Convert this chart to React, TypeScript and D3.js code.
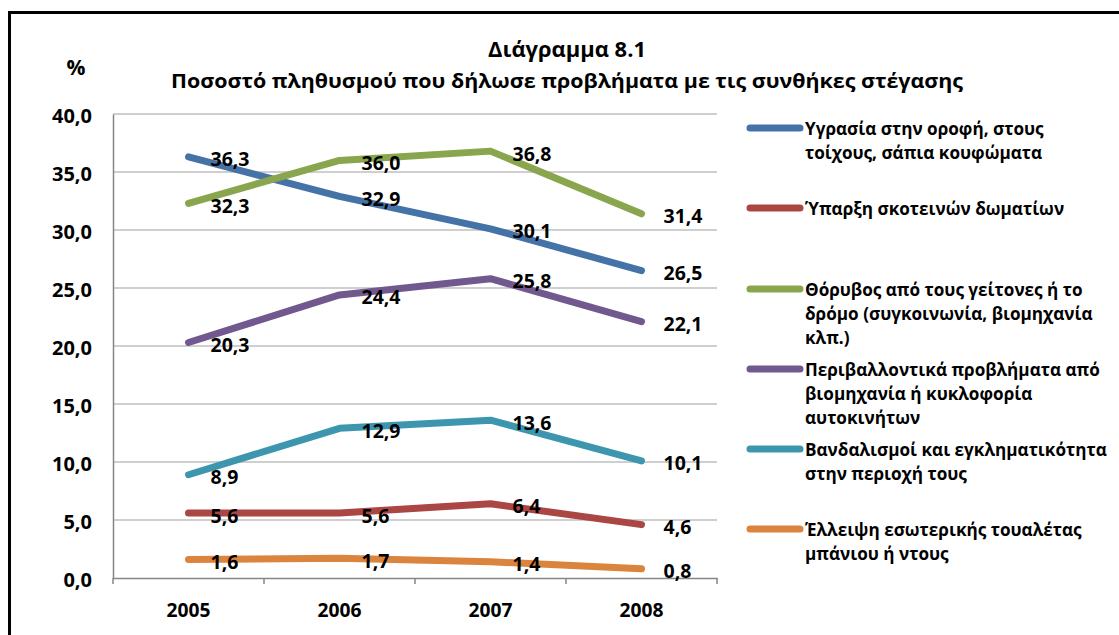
import React, { useEffect, useRef } from 'react';
import * as d3 from 'd3';

const years = ['2005', '2006', '2007', '2008'];
const yTicks = [0, 5, 10, 15, 20, 25, 30, 35, 40];

const dampness = [36.3, 32.9, 30.1, 26.5];
const darkRooms = [5.6, 5.6, 6.4, 4.6];
const noise = [32.3, 36.0, 36.8, 31.4];
const environment = [20.3, 24.4, 25.8, 22.1];
const crime = [8.9, 12.9, 13.6, 10.1];
const noToilet = [1.6, 1.7, 1.4, 0.8];

const seriesNames = [
  ['Υγρασία στην οροφή, στους', 'τοίχους, σάπια κουφώματα'],
  ['Ύπαρξη σκοτεινών δωματίων'],
  ['Θόρυβος από τους γείτονες ή το', 'δρόμο (συγκοινωνία, βιομηχανία', 'κλπ.)'],
  ['Περιβαλλοντικά προβλήματα από', 'βιομηχανία ή κυκλοφορία', 'αυτοκινήτων'],
  ['Βανδαλισμοί και εγκληματικότητα', 'στην περιοχή τους'],
  ['Έλλειψη εσωτερικής τουαλέτας', 'μπάνιου ή ντους'],
];
const seriesValues = [dampness, darkRooms, noise, environment, crime, noToilet];
const colors = ['#4572A7', '#AA4643', '#89A54E', '#71588F', '#3D96AE', '#DB843D'];
const legendY = [128, 208, 289, 369, 449, 529];

const FONT = '"Open Sans", "DejaVu Sans", sans-serif';

// scale font-size of a group of texts so the widest one has the given width
const fitWidth = (sel: any, target: number) => {
  let w = 0;
  sel.each(function (this: any) {
    w = Math.max(w, this.getComputedTextLength());
  });
  if (!w) return;
  const fs = parseFloat(sel.style('font-size'));
  sel.style('font-size', `${(fs * target) / w}px`);
};

const App = () => {
  const ref = useRef<SVGSVGElement>(null);

  useEffect(() => {
    const svg = d3.select(ref.current);
    svg.selectAll('*').remove();

    const left = 113;
    const right = 717;
    const top = 114;
    const bottom = 578;

    const x = d3.scaleBand().domain(years).range([left, right]);
    const y = d3.scaleLinear().domain([0, 40]).range([bottom, top]);
    const cx = (i: number) => (x(years[i]) as number) + x.bandwidth() / 2;

    // frame
    svg.append('rect')
      .attr('x', 9.5).attr('y', 12.5).attr('width', 1200).attr('height', 700)
      .attr('fill', 'none').attr('stroke', '#000').attr('stroke-width', 3);

    // titles
    const t1 = svg.append('text').attr('x', 567).attr('y', 57).attr('text-anchor', 'middle')
      .style('font-family', FONT).style('font-weight', 'bold').style('font-size', '20px')
      .text('Διάγραμμα 8.1');
    fitWidth(t1, 158);
    svg.append('text').attr('x', 567).attr('y', 88).attr('text-anchor', 'middle')
      .attr('textLength', 792).attr('lengthAdjust', 'spacingAndGlyphs')
      .style('font-family', FONT).style('font-weight', 'bold').style('font-size', '20px')
      .text('Ποσοστό πληθυσμού που δήλωσε προβλήματα με τις συνθήκες στέγασης');
    svg.append('text').attr('x', 76).attr('y', 75).attr('text-anchor', 'middle')
      .style('font-family', FONT).style('font-weight', 'bold').style('font-size', '21px')
      .text('%');

    // gridlines
    svg.append('g').selectAll('line').data(yTicks.filter((t) => t > 0)).enter().append('line')
      .attr('x1', left).attr('x2', right)
      .attr('y1', (d) => y(d)).attr('y2', (d) => y(d))
      .attr('stroke', '#BFBFBF').attr('stroke-width', 1.5);

    // y axis
    const yAxis = svg.append('g').attr('transform', `translate(${left},0)`)
      .call(d3.axisLeft(y).tickValues(yTicks).tickSize(0).tickPadding(21)
        .tickFormat((d) => d3.format('.1f')(d as number).replace('.', ',')));
    yAxis.select('.domain').attr('stroke', '#868686').attr('stroke-width', 1.5);
    const yt = yAxis.selectAll('text').style('font-family', FONT).style('font-weight', 'bold')
      .style('font-size', '18px').attr('fill', '#000').attr('dy', '0.4em');
    fitWidth(yt, 40);

    // x axis
    const xAxis = svg.append('g').attr('transform', `translate(0,${bottom})`)
      .call(d3.axisBottom(x).tickSize(0).tickPadding(25));
    xAxis.select('.domain').attr('stroke', '#868686').attr('stroke-width', 1.5);
    const xt = xAxis.selectAll('text').style('font-family', FONT).style('font-weight', 'bold')
      .style('font-size', '18px').attr('fill', '#000');
    fitWidth(xt, 44);
    xAxis.selectAll('.boundary').data([...years.map((yr) => x(yr) as number), right]).enter()
      .append('line').attr('class', 'boundary')
      .attr('x1', (d) => d).attr('x2', (d) => d).attr('y1', 0).attr('y2', 6)
      .attr('stroke', '#868686').attr('stroke-width', 1.5);

    // lines
    const line = d3.line<number>().x((_, i) => cx(i)).y((d) => y(d));
    seriesValues.forEach((vals, s) => {
      svg.append('path').datum(vals).attr('d', line)
        .attr('fill', 'none').attr('stroke', colors[s]).attr('stroke-width', 7)
        .attr('stroke-linecap', 'round').attr('stroke-linejoin', 'round');
    });

    // data labels
    const labels = svg.append('g');
    seriesValues.forEach((vals) => {
      labels.append('g').selectAll('text').data(vals).enter().append('text')
        .attr('x', (_, i) => cx(i) + 22)
        .attr('y', (d) => y(d) + 2)
        .attr('dominant-baseline', 'central')
        .style('font-family', FONT).style('font-weight', 'bold').style('font-size', '18px')
        .text((d) => d3.format('.1f')(d).replace('.', ','));
    });
    fitWidth(labels.selectAll('text'), 39);

    // legend
    const lg = svg.append('g');
    seriesNames.forEach((lines, s) => {
      lg.append('line').attr('x1', 750).attr('x2', 800)
        .attr('y1', legendY[s]).attr('y2', legendY[s])
        .attr('stroke', colors[s]).attr('stroke-width', 7).attr('stroke-linecap', 'round');
      const t = lg.append('text').attr('x', 805).attr('y', legendY[s])
        .style('font-family', FONT).style('font-weight', 'bold').style('font-size', '18px');
      lines.forEach((ln, k) => {
        t.append('tspan').attr('x', 805).attr('y', legendY[s] + k * 24)
          .attr('dominant-baseline', 'central').text(ln);
      });
    });
    const legendLines = lg.selectAll('tspan');
    let widest = 0;
    legendLines.each(function (this: any) {
      widest = Math.max(widest, this.getComputedTextLength());
    });
    if (widest > 0) {
      lg.selectAll('text').style('font-size', `${(18 * 302) / widest}px`);
    }
  }, []);

  return (
    <svg ref={ref} width={1119} height={635}
      style={{ position: 'absolute', left: 0, top: 0, background: '#fff' }} />
  );
};

export default App;
